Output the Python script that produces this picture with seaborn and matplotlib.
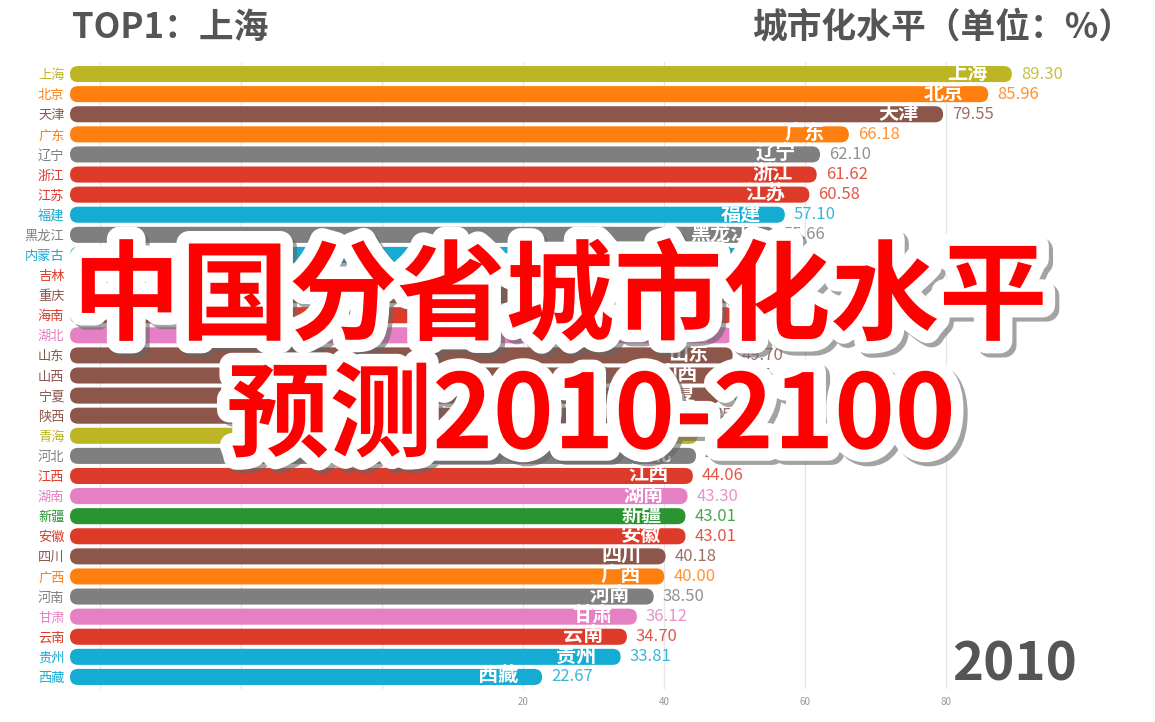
import matplotlib
matplotlib.use("Agg")
import numpy as np
import pandas as pd
import matplotlib.pyplot as plt
import seaborn as sns
import matplotlib.patheffects as pe
from matplotlib.patches import FancyBboxPatch
from matplotlib.ticker import FixedLocator, FuncFormatter

# ---------------- data ----------------
provinces = ["上海", "北京", "天津", "广东", "辽宁", "浙江", "江苏", "福建", "黑龙江", "内蒙古",
             "吉林", "重庆", "海南", "湖北", "山东", "山西", "宁夏", "陕西", "青海", "河北",
             "江西", "湖南", "新疆", "安徽", "四川", "广西", "河南", "甘肃", "云南", "贵州", "西藏"]
values = [89.30, 85.96, 79.55, 66.18, 62.10, 61.62, 60.58, 57.10, 55.66, 55.50,
          53.35, 53.02, 49.80, 49.70, 49.70, 48.05, 47.90, 45.76, 44.72, 44.50,
          44.06, 43.30, 43.01, 43.01, 40.18, 40.00, 38.50, 36.12, 34.70, 33.81, 22.67]

OLIVE, ORANGE, BROWN, GRAY = "#bdb524", "#ff7f0e", "#8c564b", "#7f7f7f"
RED, CYAN, PINK, GREEN = "#dd3a2a", "#14acd2", "#e680c4", "#2a9530"
colors = [OLIVE, ORANGE, BROWN, ORANGE, GRAY, RED, RED, CYAN, GRAY, CYAN,
          RED, BROWN, RED, PINK, BROWN, BROWN, BROWN, BROWN, OLIVE, GRAY,
          RED, PINK, GREEN, RED, BROWN, ORANGE, GRAY, PINK, RED, CYAN, CYAN]

year_label = "2010"
top_label = "TOP1：" + provinces[0]
unit_title = "城市化水平（单位：%）"
overlay_line1 = "中国分省城市化水平"
overlay_line2 = "预测2010-2100"
grid_values = [-40, -20, 0, 20, 40, 60, 80]

# axis in the animation starts left of zero
AXIS_START = -44.3
AXIS_END = 108.9

df = pd.DataFrame({"province": provinces, "value": values})
df["shifted"] = df["value"] - AXIS_START

# ---------------- style ----------------
sns.set_theme(style="white")
plt.rcParams["font.family"] = ["Noto Sans CJK SC", "DejaVu Sans"]

W, H = 1155, 722
fig = plt.figure(figsize=(W / 100, H / 100), dpi=100)
ax_left, ax_right, ax_top, ax_bottom = 70, 1150, 62, 689
ax = fig.add_axes([ax_left / W, 1 - ax_bottom / H, (ax_right - ax_left) / W, (ax_bottom - ax_top) / H])

sns.barplot(data=df, x="shifted", y="province", hue="province",
            palette=dict(zip(provinces, colors)), legend=False,
            width=0.8, saturation=1, orient="h", ax=ax)

ax.set_xlim(0, AXIS_END - AXIS_START)
ax.set_ylim(len(provinces) - 0.4, -0.6)

# round the bar ends (capsule bars)
px_per_x = (ax_right - ax_left) / (AXIS_END - AXIS_START)
for p in list(ax.patches):
    x0, y0, w, h = p.get_x(), p.get_y(), p.get_width(), p.get_height()
    bar_px = h * (ax_bottom - ax_top) / (ax.get_ylim()[0] - ax.get_ylim()[1])
    rx = (bar_px / 2) / px_per_x
    fb = FancyBboxPatch((x0, y0), w, h,
                        boxstyle=f"round,pad=0,rounding_size={rx}",
                        mutation_aspect=(h / 2) / rx,
                        fc=p.get_facecolor(), ec="none", zorder=2)
    p.remove()
    ax.add_patch(fb)

# grid & ticks
ax.xaxis.set_major_locator(FixedLocator([g - AXIS_START for g in grid_values]))
ax.xaxis.set_major_formatter(FuncFormatter(
    lambda x, pos: f"{x + AXIS_START:.0f}" if x + AXIS_START > 1 else ""))
ax.grid(axis="x", color="#e6e6e6", linewidth=0.9)
ax.grid(axis="y", visible=False)
ax.set_axisbelow(True)
ax.tick_params(axis="x", length=0, labelsize=7, labelcolor="#999999", pad=6)
ax.tick_params(axis="y", length=0, labelsize=9.5, pad=4)
for lab, c in zip(ax.get_yticklabels(), colors):
    lab.set_color(c)
for s in ax.spines.values():
    s.set_visible(False)
ax.set_xlabel("")
ax.set_ylabel("")

# labels on bars
for i, (name, v, c) in enumerate(zip(provinces, values, colors)):
    xv = v - AXIS_START
    ax.annotate(name, xy=(xv, i), xytext=(-24, 2), textcoords="offset pixels",
                ha="right", va="center", color="white", fontsize=14.5,
                fontweight="bold", zorder=3)
    ax.annotate(f"{v:.2f}", xy=(xv, i), xytext=(9, 0), textcoords="offset pixels",
                ha="left", va="center", color=c, alpha=0.85, fontsize=12, zorder=3)

# titles
fig.text(72 / W, 1 - 27 / H, top_label, fontsize=25, fontweight="bold",
         color="#555555", ha="left", va="center")
fig.text(1133 / W, 1 - 27 / H, unit_title, fontsize=25, fontweight="bold",
         color="#555555", ha="right", va="center")
fig.text(1015 / W, 1 - 665 / H, year_label, fontsize=38, fontweight="bold",
         color="#555555", ha="center", va="center")

# overlay big title
effects = [pe.Stroke(linewidth=18, foreground="#666666", offset=(3, -3), alpha=0.6),
           pe.Stroke(linewidth=18, foreground="white"),
           pe.Normal()]
fig.text(560 / W, 1 - 300 / H, overlay_line1, fontsize=78, fontweight="bold",
         color="#ff0000", ha="center", va="center", path_effects=effects, zorder=10)
fig.text(591 / W, 1 - 418 / H, overlay_line2, fontsize=74, fontweight="bold",
         color="#ff0000", ha="center", va="center", path_effects=effects, zorder=10)

fig.savefig("out.png", dpi=100)
